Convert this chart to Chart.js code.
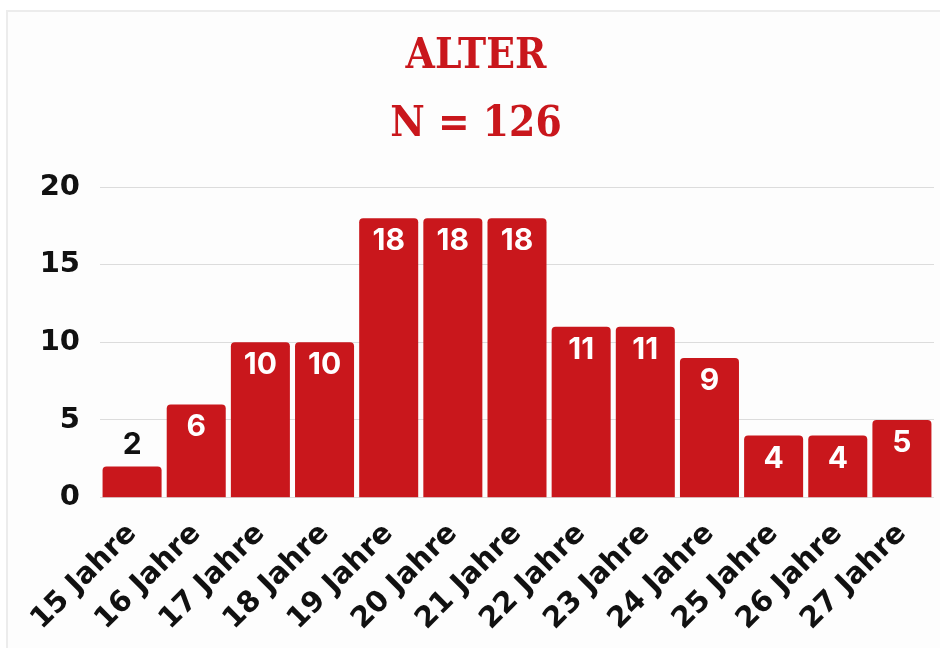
<!DOCTYPE html>
<html lang="de">
<head>
    <meta charset="UTF-8">
    <title>Alter</title>
    <script src="https://cdn.jsdelivr.net/npm/chart.js"></script>
    <style>
        html, body { margin: 0; padding: 0; background: #fff; }
        .card {
            position: absolute; left: 6px; top: 10px; right: 0; bottom: 0;
            border-left: 2px solid #ececec; border-top: 2px solid #ececec;
            background: #fdfdfd;
        }
        #wrap { position: absolute; left: 0; top: 0; width: 940px; height: 648px; }
    </style>
</head>
<body>
    <div class="card"></div>
    <div id="wrap"><canvas id="ageChart"></canvas></div>

    <script>
        // Altersverteilung
        const ageLabels = ['15 Jahre', '16 Jahre', '17 Jahre', '18 Jahre', '19 Jahre', '20 Jahre', '21 Jahre',
                           '22 Jahre', '23 Jahre', '24 Jahre', '25 Jahre', '26 Jahre', '27 Jahre'];
        const ageCounts = [2, 6, 10, 10, 18, 18, 18, 11, 11, 9, 4, 4, 5];
        const titleLines = ['ALTER', 'N = 126'];

        const red = '#c9171c';
        const sans = 'Inter, "Noto Sans", sans-serif';
        const wide = '"DejaVu Sans", sans-serif';

        // simple value labels on the bars
        const valueLabels = {
            id: 'valueLabels',
            afterDatasetsDraw(chart) {
                const ctx = chart.ctx;
                const meta = chart.getDatasetMeta(0);
                ctx.save();
                ctx.font = 'bold 30px ' + sans;
                ctx.textAlign = 'center';
                ctx.textBaseline = 'middle';
                meta.data.forEach((bar, i) => {
                    const v = ageCounts[i];
                    if (v < 3) {
                        ctx.fillStyle = '#111';
                        ctx.fillText(v, bar.x, bar.y - 22);
                    } else {
                        ctx.fillStyle = '#fff';
                        ctx.fillText(v, bar.x, bar.y + 23);
                    }
                });
                ctx.restore();
            }
        };

        new Chart(document.getElementById('ageChart'), {
            type: 'bar',
            data: {
                labels: ageLabels,
                datasets: [{
                    data: ageCounts,
                    backgroundColor: red,
                    borderRadius: { topLeft: 4, topRight: 4 },
                    borderSkipped: 'bottom',
                    barPercentage: 0.92,
                    categoryPercentage: 1
                }]
            },
            options: {
                responsive: true,
                maintainAspectRatio: false,
                animation: false,
                layout: { padding: { left: 18, right: 6, bottom: 0 } },
                plugins: {
                    legend: { display: false },
                    tooltip: { enabled: false },
                    title: {
                        display: true,
                        text: titleLines,
                        color: red,
                        font: { family: '"DejaVu Serif Condensed", "DejaVu Serif", serif', size: 42, weight: 'bold', lineHeight: 1.62 },
                        padding: { top: 23, bottom: 28 }
                    }
                },
                scales: {
                    x: {
                        grid: { display: false },
                        border: { display: false },
                        ticks: {
                            color: '#111',
                            font: { family: wide, size: 29, weight: 'bold' },
                            maxRotation: 45,
                            minRotation: 45,
                            padding: 11
                        }
                    },
                    y: {
                        min: 0,
                        max: 20,
                        afterFit(scale) { scale.width = 82; },
                        grid: { color: '#dcdcdc', drawTicks: false },
                        border: { display: false },
                        ticks: {
                            stepSize: 5,
                            color: '#111',
                            font: { family: wide, size: 29, weight: 'bold' },
                            padding: 20
                        }
                    }
                }
            },
            plugins: [valueLabels]
        });
    </script>
</body>
</html>
